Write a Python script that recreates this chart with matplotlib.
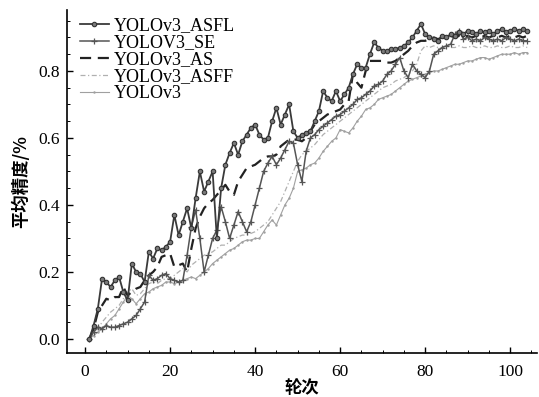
import matplotlib
matplotlib.use("Agg")
import matplotlib.pyplot as plt
from matplotlib.ticker import MultipleLocator
import numpy as np

epochs = list(range(1, 105))

asfl = [0.00, 0.04, 0.09, 0.18, 0.17, 0.155, 0.175, 0.185, 0.14, 0.115,
        0.225, 0.20, 0.195, 0.17, 0.26, 0.24, 0.27, 0.265, 0.275, 0.29,
        0.37, 0.31, 0.35, 0.39, 0.33, 0.42, 0.50, 0.44, 0.47, 0.50,
        0.30, 0.45, 0.52, 0.555, 0.585, 0.55, 0.59, 0.61, 0.63, 0.64,
        0.61, 0.595, 0.60, 0.65, 0.69, 0.64, 0.67, 0.70, 0.62, 0.60,
        0.61, 0.615, 0.62, 0.65, 0.68, 0.74, 0.72, 0.71, 0.74, 0.71,
        0.73, 0.75, 0.79, 0.82, 0.81, 0.81, 0.85, 0.885, 0.87, 0.86,
        0.86, 0.865, 0.865, 0.87, 0.875, 0.885, 0.90, 0.92, 0.94, 0.91,
        0.90, 0.895, 0.89, 0.905, 0.90, 0.91, 0.905, 0.915, 0.91, 0.92,
        0.915, 0.91, 0.92, 0.915, 0.92, 0.91, 0.92, 0.925, 0.915, 0.92,
        0.925, 0.92, 0.925, 0.92]

se = [0.00, 0.02, 0.035, 0.03, 0.04, 0.035, 0.035, 0.04, 0.045, 0.05,
      0.06, 0.07, 0.09, 0.11, 0.19, 0.175, 0.18, 0.19, 0.195, 0.18,
      0.175, 0.17, 0.175, 0.25, 0.335, 0.385, 0.30, 0.20, 0.25, 0.30,
      0.325, 0.395, 0.35, 0.30, 0.34, 0.38, 0.35, 0.32, 0.35, 0.40,
      0.45, 0.50, 0.525, 0.545, 0.52, 0.54, 0.565, 0.59, 0.585, 0.52,
      0.47, 0.56, 0.60, 0.61, 0.625, 0.635, 0.645, 0.655, 0.665, 0.67,
      0.68, 0.69, 0.70, 0.715, 0.72, 0.73, 0.74, 0.755, 0.76, 0.77,
      0.79, 0.80, 0.82, 0.84, 0.80, 0.78, 0.82, 0.80, 0.79, 0.78,
      0.80, 0.85, 0.86, 0.87, 0.875, 0.88, 0.91, 0.92, 0.895, 0.90,
      0.89, 0.895, 0.89, 0.90, 0.895, 0.89, 0.895, 0.89, 0.90, 0.895,
      0.89, 0.895, 0.89, 0.89]

as_ = [0.00, 0.03, 0.08, 0.10, 0.12, 0.115, 0.125, 0.125, 0.155, 0.13,
       0.14, 0.15, 0.155, 0.175, 0.19, 0.20, 0.215, 0.245, 0.25, 0.255,
       0.215, 0.22, 0.225, 0.20, 0.27, 0.33, 0.365, 0.39, 0.405, 0.415,
       0.43, 0.445, 0.46, 0.44, 0.43, 0.47, 0.49, 0.51, 0.515, 0.52,
       0.53, 0.54, 0.545, 0.545, 0.55, 0.575, 0.585, 0.595, 0.595, 0.595,
       0.59, 0.60, 0.62, 0.64, 0.65, 0.66, 0.67, 0.675, 0.68, 0.685,
       0.70, 0.71, 0.79, 0.765, 0.75, 0.80, 0.83, 0.83, 0.83, 0.83,
       0.825, 0.825, 0.83, 0.84, 0.85, 0.86, 0.875, 0.885, 0.89, 0.89,
       0.895, 0.90, 0.895, 0.90, 0.90, 0.905, 0.90, 0.905, 0.90, 0.905,
       0.90, 0.905, 0.90, 0.905, 0.90, 0.905, 0.90, 0.905, 0.90, 0.905,
       0.90, 0.905, 0.90, 0.905]

asff = [0.00, 0.015, 0.03, 0.05, 0.065, 0.08, 0.09, 0.10, 0.12, 0.14,
        0.15, 0.13, 0.135, 0.15, 0.165, 0.17, 0.165, 0.175, 0.18, 0.18,
        0.19, 0.20, 0.21, 0.20, 0.22, 0.23, 0.24, 0.25, 0.255, 0.26,
        0.27, 0.28, 0.28, 0.29, 0.30, 0.305, 0.31, 0.31, 0.315, 0.32,
        0.33, 0.34, 0.35, 0.37, 0.39, 0.41, 0.44, 0.47, 0.50, 0.53,
        0.55, 0.56, 0.57, 0.58, 0.595, 0.61, 0.62, 0.63, 0.64, 0.65,
        0.66, 0.67, 0.68, 0.69, 0.70, 0.71, 0.72, 0.73, 0.74, 0.75,
        0.755, 0.76, 0.77, 0.775, 0.78, 0.79, 0.80, 0.82, 0.86, 0.875,
        0.87, 0.875, 0.87, 0.87, 0.875, 0.87, 0.87, 0.875, 0.87, 0.87,
        0.875, 0.87, 0.87, 0.875, 0.87, 0.87, 0.875, 0.87, 0.87, 0.875,
        0.87, 0.87, 0.875, 0.87]

yolov3 = [0.00, 0.01, 0.02, 0.03, 0.045, 0.06, 0.07, 0.09, 0.11, 0.13,
          0.12, 0.105, 0.12, 0.135, 0.14, 0.15, 0.155, 0.16, 0.17, 0.17,
          0.165, 0.17, 0.175, 0.18, 0.185, 0.18, 0.19, 0.20, 0.21, 0.225,
          0.235, 0.245, 0.255, 0.265, 0.27, 0.28, 0.29, 0.295, 0.295, 0.30,
          0.30, 0.32, 0.34, 0.355, 0.34, 0.37, 0.40, 0.42, 0.45, 0.50,
          0.505, 0.51, 0.52, 0.525, 0.54, 0.56, 0.575, 0.59, 0.60, 0.625,
          0.62, 0.615, 0.63, 0.65, 0.665, 0.685, 0.69, 0.70, 0.715, 0.72,
          0.725, 0.73, 0.74, 0.75, 0.76, 0.77, 0.775, 0.78, 0.785, 0.79,
          0.795, 0.80, 0.80, 0.805, 0.81, 0.815, 0.82, 0.82, 0.825, 0.83,
          0.83, 0.835, 0.84, 0.84, 0.835, 0.84, 0.845, 0.85, 0.85, 0.85,
          0.855, 0.85, 0.855, 0.855]

labels = ["YOLOv3_ASFL", "YOLOV3_SE", "YOLOv3_AS", "YOLOv3_ASFF", "YOLOv3"]
xticks = [0, 20, 40, 60, 80, 100]
yticks = [0.0, 0.2, 0.4, 0.6, 0.8]

serif = ["Liberation Serif", "DejaVu Serif"]
cjk = ["Noto Sans CJK SC", "DejaVu Sans"]

fig = plt.figure(figsize=(5.39, 3.97), dpi=100)
ax = fig.add_axes([67/539, 1-353/397, (537-67)/539, (353-10)/397])

ax.plot(epochs, asfl, color="#3a3a3a", lw=1.3, marker="o", ms=3.2,
        mfc="#7a7a7a", mec="#333333", mew=0.8, label=labels[0], zorder=5)
ax.plot(epochs, se, color="#555555", lw=1.1, marker="+", ms=5,
        mew=0.9, label=labels[1], zorder=4)
ax.plot(epochs, as_, color="#222222", lw=1.6, ls=(0, (5, 3)),
        label=labels[2], zorder=3)
ax.plot(epochs, asff, color="#b0b0b0", lw=0.9, ls=(0, (4, 2, 1, 2)),
        label=labels[3], zorder=2)
ax.plot(epochs, yolov3, color="#a0a0a0", lw=0.8, marker=".", ms=1.5,
        label=labels[4], zorder=1)

ax.set_xlim(-4.25, 106.3)
ax.set_ylim(-0.042, 0.982)
ax.set_xticks(xticks)
ax.set_yticks(yticks)
ax.set_xticklabels([str(v) for v in xticks], family=serif, fontsize=12.5)
ax.set_yticklabels([f"{v:.1f}" for v in yticks], family=serif, fontsize=12.5)
ax.xaxis.set_minor_locator(MultipleLocator(5))
ax.yaxis.set_minor_locator(MultipleLocator(0.05))
ax.tick_params(which="major", direction="in", length=4, width=1, pad=5)
ax.tick_params(axis="x", which="major", pad=8)
ax.tick_params(which="minor", direction="in", length=2, width=0.7)
for s in ["top", "right"]:
    ax.spines[s].set_visible(False)
for s in ["left", "bottom"]:
    ax.spines[s].set_linewidth(1.2)

ax.set_xlabel("轮次", family=cjk, fontsize=12.5, fontweight="bold", labelpad=-1)
ax.set_ylabel("平均精度/%", family=cjk, fontsize=12.5, fontweight="bold", labelpad=6)

leg = ax.legend(loc="upper left", bbox_to_anchor=(0.02, 0.99), frameon=False,
                prop={"family": serif, "size": 13}, handlelength=1.6,
                handletextpad=0.3, labelspacing=0.0, borderaxespad=0.0,
                borderpad=0.2)

fig.savefig("out.png", dpi=100)
